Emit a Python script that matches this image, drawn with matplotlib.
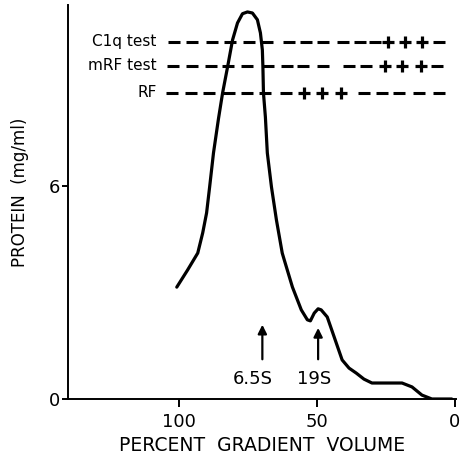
import numpy as np
import matplotlib.pyplot as plt

# sedimentation profile
volume = [100.7, 96.8, 93.1, 91.3, 89.9, 88.8, 87.4, 85.6, 84.1, 82.3, 80.5,
          78.7, 76.9, 75.1, 73.3, 71.5, 70.4, 69.7, 69.5, 69.3, 68.6, 67.9, 66.4,
          64.6, 62.5, 61.7, 58.8, 57.4, 55.6, 53.4, 52.3, 50.9, 49.5, 48.4, 46.2,
          43.7, 40.8, 38.3, 35.7, 32.9, 30.0, 23.8, 19.1, 15.5, 11.9, 8.3, 1.1]
protein = [3.15, 3.63, 4.11, 4.68, 5.24, 5.97, 6.93, 7.89, 8.62, 9.35, 10.11,
           10.59, 10.85, 10.9, 10.87, 10.68, 10.31, 9.83, 9.35, 8.62, 7.94, 6.93, 5.97,
           5.04, 4.11, 3.9, 3.15, 2.87, 2.51, 2.23, 2.2, 2.42, 2.54, 2.51, 2.31,
           1.75, 1.1, 0.87, 0.73, 0.56, 0.45, 0.45, 0.45, 0.34, 0.11, 0.0, 0.0]

# test results per fraction
test_names = ['C1q test', 'mRF test', 'RF']
test_y = [10.06, 9.38, 8.62]
test_x = [
    [101.8, 95.3, 88.1, 81.6, 74.4, 67.9, 59.9, 53.8, 47.7, 40.4, 34.3, 28.9, 24.2, 18.1, 11.9, 5.8],
    [102.2, 95.3, 88.4, 82.3, 75.1, 67.5, 60.6, 54.9, 47.7, 38.3, 32.1, 25.3, 19.1, 12.3, 6.5],
    [102.5, 95.7, 89.2, 81.9, 75.1, 68.6, 61.0, 54.5, 48.0, 41.2, 32.9, 26.4, 20.2, 13.0, 5.8],
]
test_res = ['------------+++-', '-----------+++-', '-------+++-----']

# sedimentation markers
marker_names = ['6.5S', '19S']
marker_x = [69.7, 49.5]
marker_tip = [2.17, 2.08]
marker_label_x = [73.3, 50.9]

fig = plt.figure(figsize=(4.61, 4.61), dpi=100)
ax = fig.add_axes([0.1475, 0.1345, 0.842, 0.855])

ax.plot(volume, protein, color='black', lw=2.3, solid_capstyle='round', solid_joinstyle='round')

for name, y, xs, res in zip(test_names, test_y, test_x, test_res):
    xs = np.array(xs)
    signs = np.array(list(res))
    ax.plot(xs[signs == '-'], [y] * (signs == '-').sum(), ls='none', marker='_',
            ms=9, mew=2.2, color='black')
    ax.plot(xs[signs == '+'], [y] * (signs == '+').sum(), ls='none', marker='+',
            ms=9, mew=2.3, color='black')
    ax.text(108, y, name, ha='right', va='center', fontsize=11)

for name, x, tip, lx in zip(marker_names, marker_x, marker_tip, marker_label_x):
    ax.annotate('', xy=(x, tip), xytext=(x, 1.04),
                arrowprops=dict(arrowstyle='-|>', color='black', lw=1.6, mutation_scale=13))
    ax.text(lx, 0.56, name, ha='center', va='center', fontsize=13)

ax.set_xlim(140.1, -0.5)
ax.set_ylim(0, 11.1)
ax.spines['top'].set_visible(False)
ax.spines['right'].set_visible(False)
ax.spines['left'].set_linewidth(1.4)
ax.spines['bottom'].set_linewidth(1.4)
ax.set_xticks([100, 50, 0])
ax.set_yticks([0, 6])
ax.tick_params(axis='x', direction='out', length=6, width=1.4, labelsize=13, pad=4)
ax.tick_params(axis='y', direction='out', length=4, width=1.4, labelsize=13, pad=2)
ax.set_xlabel('PERCENT  GRADIENT  VOLUME', fontsize=13.5, labelpad=4)
ax.set_ylabel('PROTEIN  (mg/ml)', fontsize=12)
ax.yaxis.set_label_coords(-0.10, 0.525)

fig.savefig('out.png', dpi=100)
